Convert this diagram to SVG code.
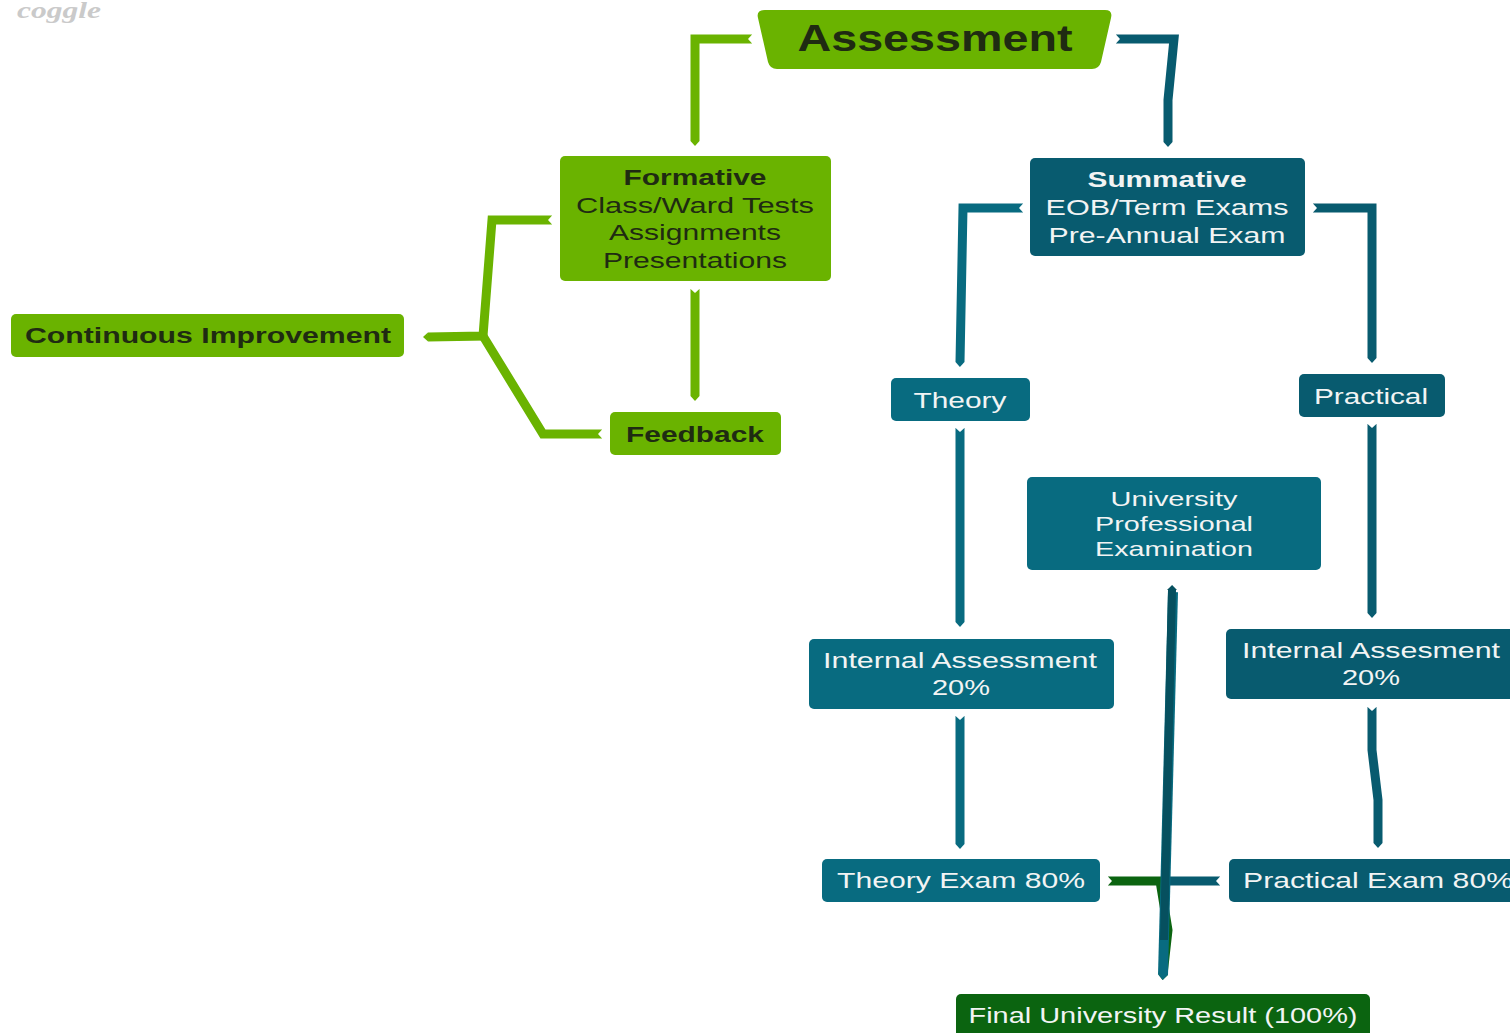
<svg xmlns="http://www.w3.org/2000/svg" width="1510" height="1033" viewBox="0 0 1510 1033">
<style>
.t{font-family:"Liberation Sans",Arial,sans-serif;font-size:22px;text-anchor:middle}
.s21{font-size:21px}
.s36{font-size:37px}
.b{font-weight:bold}
.dk{fill:#1f2b12}
.wt{fill:#f2f4f4}
.gn{fill:#6ab300}
.tl{fill:#086b80}
.dt{fill:#085b6f}
.fg{fill:#0b6410}
.c{fill:none;stroke-width:9;stroke-linejoin:miter;stroke-linecap:butt;marker-start:url(#notch)}
</style>
<defs>
<marker id="notch" markerUnits="userSpaceOnUse" markerWidth="10" markerHeight="12" refX="0" refY="0" orient="auto" overflow="visible"><path d="M-1,-5.5 L4,0 L-1,5.5 Z" fill="#fff"/></marker>
<marker id="tipG" markerUnits="userSpaceOnUse" markerWidth="10" markerHeight="12" refX="0" refY="0" orient="auto" overflow="visible"><path d="M0,-4.5 L5,0 L0,4.5 Z" fill="#6ab300"/></marker>
<marker id="tipT" markerUnits="userSpaceOnUse" markerWidth="10" markerHeight="12" refX="0" refY="0" orient="auto" overflow="visible"><path d="M0,-4.5 L5,0 L0,4.5 Z" fill="#086b80"/></marker>
<marker id="tipD" markerUnits="userSpaceOnUse" markerWidth="10" markerHeight="12" refX="0" refY="0" orient="auto" overflow="visible"><path d="M0,-4.5 L5,0 L0,4.5 Z" fill="#085b6f"/></marker>
<marker id="tipF" markerUnits="userSpaceOnUse" markerWidth="10" markerHeight="12" refX="0" refY="0" orient="auto" overflow="visible"><path d="M0,-4.5 L5,0 L0,4.5 Z" fill="#0b6410"/></marker>
<marker id="tipX" markerUnits="userSpaceOnUse" markerWidth="10" markerHeight="12" refX="0" refY="0" orient="auto" overflow="visible"><path d="M0,-5 L5,0 L0,5 Z" fill="#06505f"/></marker>
</defs>
<rect width="1510" height="1033" fill="#fff"/>
<text x="17" y="18" font-family="'Liberation Serif',serif" font-style="italic" font-weight="bold" font-size="24" fill="#cacaca" textLength="84" lengthAdjust="spacingAndGlyphs">coggle</text>

<g id="connectors">
<path class="c" stroke="#6ab300" marker-end="url(#tipG)" d="M752,39 L695,39 L695,141"/>
<path class="c" stroke="#085b6f" marker-end="url(#tipD)" d="M1116,39 L1174,39 L1168,100 L1168,142"/>
<path class="c" stroke="#6ab300" marker-end="url(#tipG)" d="M552,220 L492,220 L483,336 L428,337"/>
<path class="c" stroke="#6ab300" d="M602,434 L543,434 L483,336"/>
<path class="c" stroke="#6ab300" marker-end="url(#tipG)" d="M695,289 L695,396"/>
<path class="c" stroke="#086b80" marker-end="url(#tipT)" d="M1023,208 L963,208 L960,362"/>
<path class="c" stroke="#085b6f" marker-end="url(#tipD)" d="M1313,208 L1372,208 L1372,358"/>
<path class="c" stroke="#086b80" marker-end="url(#tipT)" d="M960,428 L960,622"/>
<path class="c" stroke="#086b80" marker-end="url(#tipT)" d="M960,716 L960,844"/>
<path class="c" stroke="#085b6f" marker-end="url(#tipD)" d="M1372,424 L1372,613"/>
<path class="c" stroke="#085b6f" marker-end="url(#tipD)" d="M1372,707 L1372,750 L1378,800 L1378,843"/>
<path class="c" stroke="#0b6410" marker-end="url(#tipF)" d="M1108,881 L1160,881 L1168,930 L1163,975"/>
<path class="c" stroke="#085b6f" d="M1220,881 L1165,881"/>
<path fill="none" stroke="#086b80" stroke-width="10" marker-end="url(#tipT)" d="M1173,592 L1163,975"/>
<path fill="none" stroke="#06505f" stroke-width="8" marker-end="url(#tipX)" d="M1164,940 L1172,590"/>
</g>

<g id="assessment">
<path class="gn" d="M765,10 L1105,10 Q1113,10 1111,18 L1101,62 Q1099,69 1092,69 L777,69 Q770,69 768,62 L758,18 Q756,10 765,10 Z"/>
<text class="t s36 b dk" x="935" y="51" textLength="275" lengthAdjust="spacingAndGlyphs">Assessment</text>
</g>

<g id="formative">
<rect class="gn" x="560" y="156" width="271" height="125" rx="5"/>
<text class="t b dk" x="695" y="185" textLength="143" lengthAdjust="spacingAndGlyphs">Formative</text>
<text class="t dk" x="695" y="213" textLength="238" lengthAdjust="spacingAndGlyphs">Class/Ward Tests</text>
<text class="t dk" x="695" y="240" textLength="172" lengthAdjust="spacingAndGlyphs">Assignments</text>
<text class="t dk" x="695" y="268" textLength="184" lengthAdjust="spacingAndGlyphs">Presentations</text>
</g>

<g id="feedback">
<rect class="gn" x="610" y="412" width="171" height="43" rx="5"/>
<text class="t b dk" x="695" y="442" textLength="138" lengthAdjust="spacingAndGlyphs">Feedback</text>
</g>

<g id="continuous">
<rect class="gn" x="11" y="314" width="393" height="43" rx="5"/>
<text class="t b dk" x="208" y="343" textLength="366" lengthAdjust="spacingAndGlyphs">Continuous Improvement</text>
</g>

<g id="summative">
<rect class="dt" x="1030" y="158" width="275" height="98" rx="5"/>
<text class="t b wt" x="1167" y="187" textLength="159" lengthAdjust="spacingAndGlyphs">Summative</text>
<text class="t wt" x="1167" y="215" textLength="243" lengthAdjust="spacingAndGlyphs">EOB/Term Exams</text>
<text class="t wt" x="1167" y="243" textLength="237" lengthAdjust="spacingAndGlyphs">Pre-Annual Exam</text>
</g>

<g id="theory">
<rect class="tl" x="891" y="378" width="139" height="43" rx="5"/>
<text class="t wt" x="960" y="408" textLength="93" lengthAdjust="spacingAndGlyphs">Theory</text>
</g>

<g id="practical">
<rect class="dt" x="1299" y="374" width="146" height="43" rx="5"/>
<text class="t wt" x="1371" y="404" textLength="114" lengthAdjust="spacingAndGlyphs">Practical</text>
</g>

<g id="university">
<rect class="tl" x="1027" y="477" width="294" height="93" rx="5"/>
<text class="t s21 wt" x="1174" y="506" textLength="127" lengthAdjust="spacingAndGlyphs">University</text>
<text class="t s21 wt" x="1174" y="531" textLength="158" lengthAdjust="spacingAndGlyphs">Professional</text>
<text class="t s21 wt" x="1174" y="556" textLength="158" lengthAdjust="spacingAndGlyphs">Examination</text>
</g>

<g id="internal-left">
<rect class="tl" x="809" y="639" width="305" height="70" rx="5"/>
<text class="t wt" x="960" y="668" textLength="274" lengthAdjust="spacingAndGlyphs">Internal Assessment</text>
<text class="t wt" x="961" y="695" textLength="58" lengthAdjust="spacingAndGlyphs">20%</text>
</g>

<g id="internal-right">
<rect class="dt" x="1226" y="629" width="292" height="70" rx="5"/>
<text class="t wt" x="1371" y="658" textLength="258" lengthAdjust="spacingAndGlyphs">Internal Assesment</text>
<text class="t wt" x="1371" y="685" textLength="58" lengthAdjust="spacingAndGlyphs">20%</text>
</g>

<g id="theory-exam">
<rect class="tl" x="822" y="859" width="278" height="43" rx="5"/>
<text class="t wt" x="961" y="888" textLength="248" lengthAdjust="spacingAndGlyphs">Theory Exam 80%</text>
</g>

<g id="practical-exam">
<rect class="dt" x="1229" y="859" width="298" height="43" rx="5"/>
<text class="t wt" x="1378" y="888" textLength="270" lengthAdjust="spacingAndGlyphs">Practical Exam 80%</text>
</g>

<g id="final">
<rect class="fg" x="956" y="994" width="414" height="50" rx="5"/>
<text class="t wt" x="1163" y="1023" textLength="389" lengthAdjust="spacingAndGlyphs">Final University Result (100%)</text>
</g>
</svg>
